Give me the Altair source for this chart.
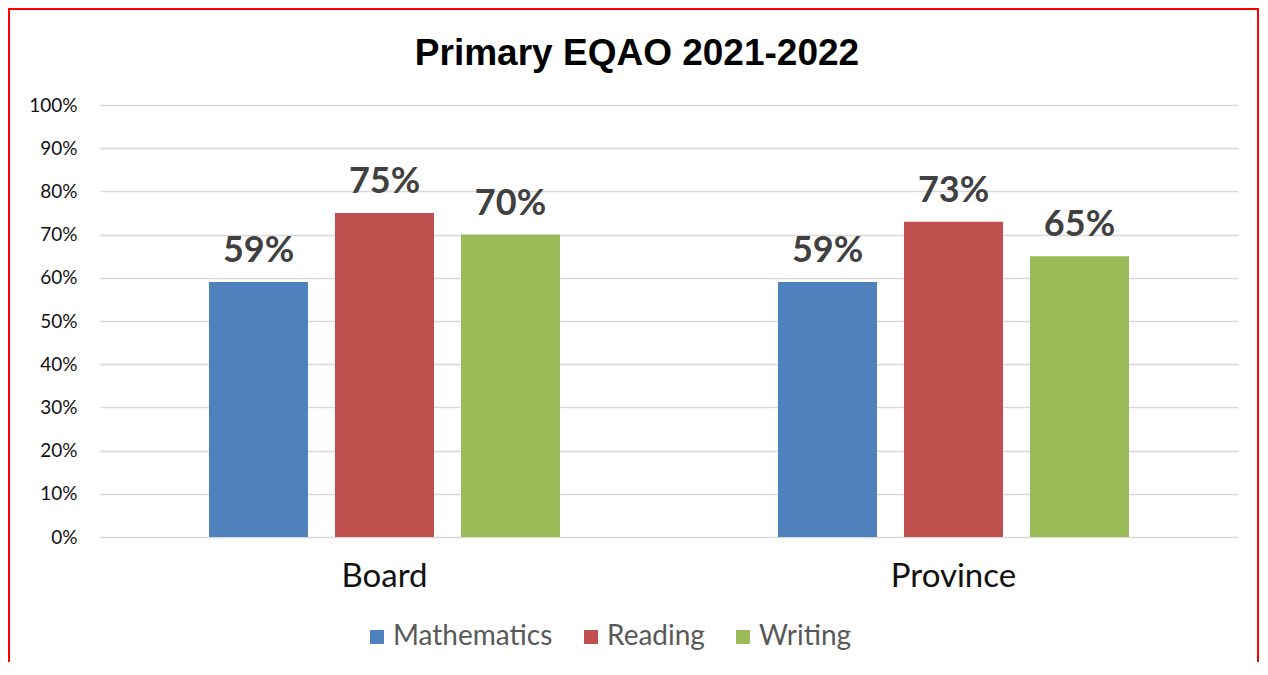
import altair as alt
import pandas as pd

title_text = ["Primary EQAO 2021-2022"]
groups = ["Board", "Board", "Board", "Province", "Province", "Province"]
subjects = ["Mathematics", "Reading", "Writing", "Mathematics", "Reading", "Writing"]
values = [59, 75, 70, 59, 73, 65]
subject_order = ["Mathematics", "Reading", "Writing"]
subject_colors = ["#4F81BD", "#C0504D", "#9BBB59"]
y_ticks = [0, 10, 20, 30, 40, 50, 60, 70, 80, 90, 100]

df = pd.DataFrame({"group": groups, "subject": subjects, "value": values})
df["frac"] = df["value"] / 100
df["label"] = df["value"].astype(str) + "%"

FONT = "Lato"

x_enc = alt.X("group:N", sort=["Board", "Province"],
              scale=alt.Scale(paddingInner=0, paddingOuter=0),
              axis=alt.Axis(title=None, labelAngle=0, labelFontSize=33, labelColor="#111111",
                            labelFont=FONT, labelPadding=23, ticks=False, domain=False, grid=False))
xo_enc = alt.XOffset("subject:N", sort=subject_order,
                     scale=alt.Scale(paddingInner=0.214, paddingOuter=0.865))

base = alt.Chart(df)

bars = base.mark_bar().encode(
    x=x_enc,
    xOffset=xo_enc,
    y=alt.Y("frac:Q", scale=alt.Scale(domain=[0, 1]),
            axis=alt.Axis(title=None, format=".0%", values=[v / 100 for v in y_ticks],
                          labelFontSize=19, labelColor="#111111", labelFont=FONT,
                          labelPadding=23, ticks=False, domain=False,
                          gridColor="#d9d9d9", gridWidth=1.5)),
    color=alt.Color("subject:N", sort=subject_order,
                    scale=alt.Scale(domain=subject_order, range=subject_colors),
                    legend=alt.Legend(title=None, orient="none", direction="horizontal",
                                      legendX=263, legendY=518, symbolType="square",
                                      symbolSize=196, symbolStrokeWidth=0, labelFontSize=28,
                                      labelColor="#595959", labelFont=FONT, labelOffset=2,
                                      columnPadding=24)),
)

labels = base.mark_text(fontSize=36, fontWeight="bold", color="#404040", font=FONT,
                        baseline="alphabetic", dy=-20).encode(
    x=alt.X("group:N", sort=["Board", "Province"]),
    xOffset=alt.XOffset("subject:N", sort=subject_order),
    y="frac:Q",
    text="label:N",
)

title = alt.Chart(pd.DataFrame({"t": title_text})).mark_text(
    fontSize=37, fontWeight="bold", font="Liberation Sans", color="#000000",
    align="center", baseline="alphabetic"
).encode(x=alt.value(537), y=alt.value(-40), text="t:N")

border = alt.Chart(pd.DataFrame({"a": [0]})).mark_rect(
    fillOpacity=0, stroke="#ff0000", strokeWidth=2, clip=False
).encode(x=alt.value(-91), x2=alt.value(1158), y=alt.value(-96), y2=alt.value(700))

chart = alt.layer(bars, labels, title, border).properties(
    width=1138, height=432,
    autosize=alt.AutoSizeParams(type="none"),
    padding={"left": 92, "top": 97, "right": 22, "bottom": 125},
).configure_view(stroke=None)

chart.save("out.html", embed_options={"renderer": "svg", "actions": False})
